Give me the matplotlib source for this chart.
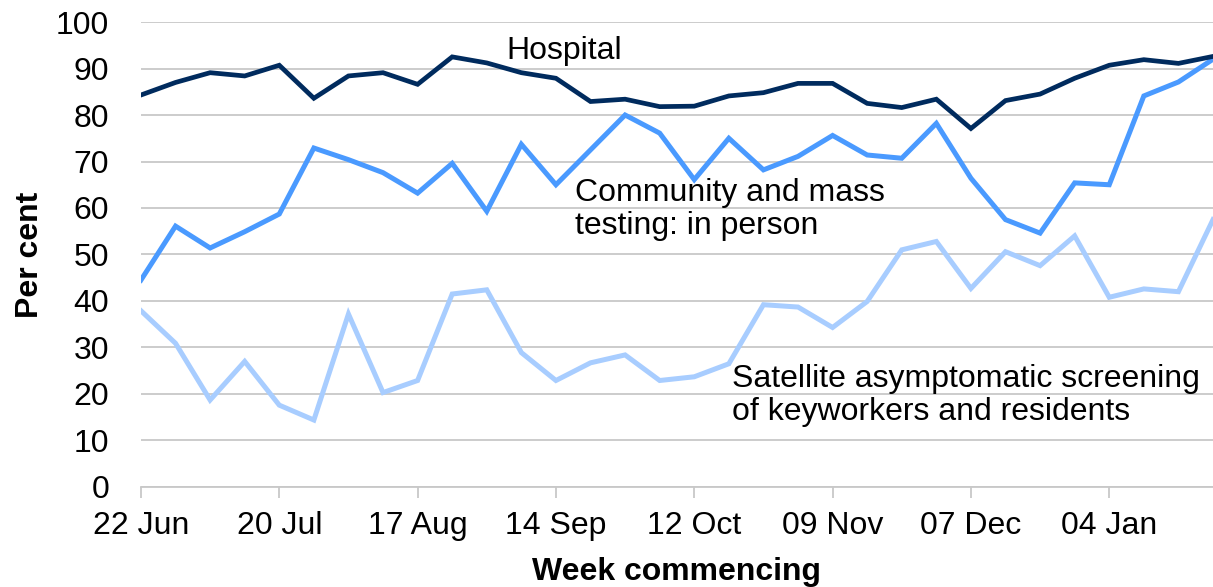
import matplotlib.pyplot as plt
import numpy as np

plt.rcParams['font.family'] = ['Liberation Sans', 'DejaVu Sans']

# weekly points, 22 Jun to 25 Jan
tick_labels = ["22 Jun", "20 Jul", "17 Aug", "14 Sep", "12 Oct", "09 Nov", "07 Dec", "04 Jan"]

hospital = [84.3, 87.0, 89.1, 88.4, 90.7, 83.6, 88.4, 89.1, 86.6, 92.5,
            91.2, 89.1, 87.9, 82.9, 83.4, 81.8, 81.9, 84.1, 84.8, 86.8,
            86.8, 82.5, 81.6, 83.4, 77.1, 83.1, 84.5, 87.9, 90.7, 91.9,
            91.1, 92.6]

community = [44.5, 56.1, 51.4, 54.9, 58.7, 72.9, 70.4, 67.6, 63.2, 69.6,
             59.3, 73.7, 65.0, 72.5, 80.0, 76.1, 66.1, 75.0, 68.2, 71.1,
             75.6, 71.4, 70.7, 78.2, 66.4, 57.5, 54.6, 65.4, 65.0, 84.1,
             87.1, 92.0]

satellite = [37.9, 30.9, 18.7, 27.0, 17.6, 14.4, 37.2, 20.3, 22.9, 41.5,
             42.4, 28.9, 22.9, 26.7, 28.4, 22.9, 23.7, 26.5, 39.2, 38.7,
             34.3, 39.9, 51.0, 52.8, 42.7, 50.6, 47.6, 54.0, 40.8, 42.6,
             42.0, 57.5]

weeks = np.arange(len(hospital))
fs = 23

fig = plt.figure(figsize=(12.13, 5.87), dpi=100)
ax = fig.add_axes([0.1162, 0.1704, 0.8838, 0.7921])

ax.plot(weeks, satellite, color="#a8cdff", lw=3.6, solid_joinstyle='miter')
ax.plot(weeks, community, color="#4a9aff", lw=3.6, solid_joinstyle='miter')
ax.plot(weeks, hospital, color="#002b5e", lw=3.4, solid_joinstyle='miter')

ax.set_xlim(0, len(weeks) - 1)
ax.set_ylim(0, 100)
ax.set_yticks(range(0, 101, 10))
ax.set_xticks(weeks[::4])
ax.set_xticklabels(tick_labels)
ax.yaxis.grid(True, color="#c8c8c8", lw=1.3)
ax.set_axisbelow(True)

for s in ["left", "right", "top"]:
    ax.spines[s].set_visible(False)
ax.spines["bottom"].set_color("#c8c8c8")
ax.spines["bottom"].set_linewidth(1.3)
ax.tick_params(axis="y", length=0, pad=23, labelsize=fs)
ax.tick_params(axis="x", length=8, width=1.3, color="#c8c8c8", pad=9, labelsize=fs)

ax.set_xlabel("Week commencing", fontsize=fs, fontweight="bold", labelpad=12)
ax.set_ylabel("Per cent", fontsize=fs, fontweight="bold", labelpad=8)

ax.text(10.58, 93.8, "Hospital", fontsize=fs, va="center")
ax.text(12.55, 66.5, "Community and mass\ntesting: in person", fontsize=fs,
        va="top", linespacing=1.12)
ax.text(17.09, 26.5, "Satellite asymptomatic screening\nof keyworkers and residents",
        fontsize=fs, va="top", linespacing=1.12)

plt.savefig("out.png", dpi=100)
